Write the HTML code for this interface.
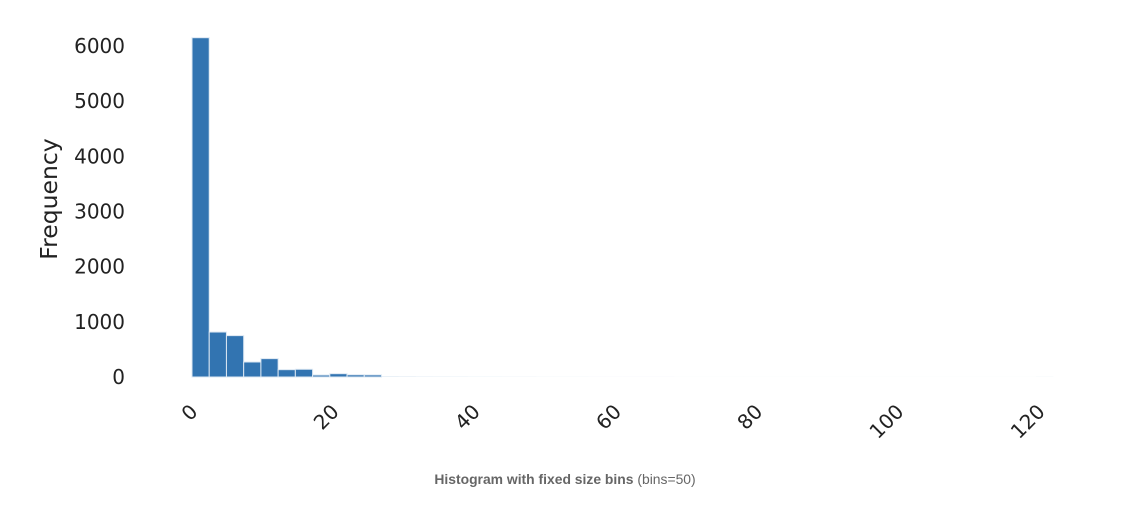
<!DOCTYPE html>
<html><head><meta charset="utf-8"><style>
body{margin:0;background:#fff;font-family:"Liberation Sans","DejaVu Sans",sans-serif}
svg text{font-family:"DejaVu Sans","Liberation Sans",sans-serif}
</style></head><body>
<svg id="chart" width="1140" height="506" xmlns="http://www.w3.org/2000/svg">
<g id="bars"></g>
<g id="yticks"></g>
<g id="xticks"></g>
<text transform="translate(57,199) rotate(-90)" text-anchor="middle" font-size="23.5" fill="#222">Frequency</text>
<text x="565" y="484" text-anchor="middle" font-size="13.9" fill="#666" style="font-family:'Liberation Sans',sans-serif"><tspan font-weight="bold">Histogram with fixed size bins</tspan> (bins=50)</text>
</svg>
<script>
const counts=[6150,815,750,272,333,133,140,36,60,40,38,12,10,8,7,6,5,5,4,4,3,3,3,2,2,2,2,2,1,1,1,1,1,1,1,1,1,1,1,1,1,1,1,1,1,1,1,1,1,3];
const binStart=0, binWidth=2.44;
const yTicks=[0,1000,2000,3000,4000,5000,6000];
const xTicks=[0,20,40,60,80,100,120];
const NS="http://www.w3.org/2000/svg";
const x=v=>192+v*7.06, y=v=>377-v*0.05517;
const bars=document.getElementById('bars');
counts.forEach((c,i)=>{
  const r=document.createElementNS(NS,'rect');
  const x0=x(binStart+i*binWidth), x1=x(binStart+(i+1)*binWidth);
  r.setAttribute('x',x0);r.setAttribute('width',x1-x0);
  r.setAttribute('y',y(c));r.setAttribute('height',y(0)-y(c));
  r.setAttribute('fill','#3274b1');
  r.setAttribute('stroke',c>20?'#dde8f3':'none');r.setAttribute('stroke-width','1');
  r.setAttribute('fill-opacity',c>20?'1':'0.15');
  
  
  bars.appendChild(r);
});
const yt=document.getElementById('yticks');
yTicks.forEach(v=>{
  const t=document.createElementNS(NS,'text');
  t.setAttribute('x',125);t.setAttribute('y',y(v)+7);
  t.setAttribute('text-anchor','end');t.setAttribute('font-size','20');t.setAttribute('fill','#222');
  t.textContent=v;
  
  
  yt.appendChild(t);
});
const xt=document.getElementById('xticks');
xTicks.forEach(v=>{
  const t=document.createElementNS(NS,'text');
  const px=x(v)-3, py=403;
  t.setAttribute('transform','translate('+px+','+py+') rotate(-45)');
  t.setAttribute('text-anchor','end');t.setAttribute('font-size','20');t.setAttribute('fill','#222');
  t.setAttribute('dy','14');
  t.textContent=v;
  
  
  xt.appendChild(t);
});
</script>
</body></html>
